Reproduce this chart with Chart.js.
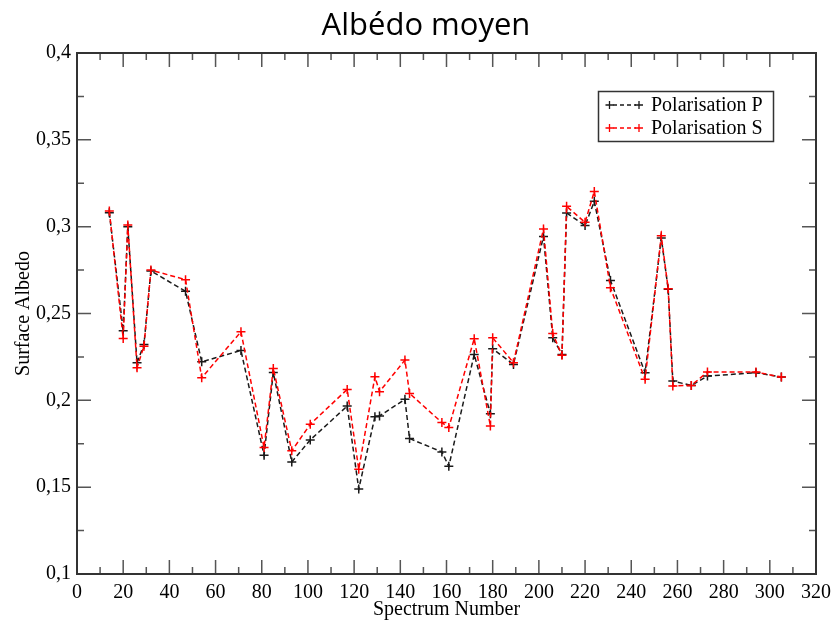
<!DOCTYPE html>
<html><head><meta charset="utf-8">
<script src="https://cdn.jsdelivr.net/npm/chart.js@4.4.0/dist/chart.umd.min.js"></script>
<style>html,body{margin:0;padding:0;background:#fff}#wrap{width:838px;height:623px}</style>
</head><body><div id="wrap"><canvas id="c" width="838" height="623"></canvas></div>
<script>
const chartTitle = 'Albédo moyen';
const xAxisTitle = 'Spectrum Number';
const yAxisTitle = 'Surface Albedo';
const seriesNames = ['Polarisation P', 'Polarisation S'];
const spectrumNumbers = [14, 20, 22, 26, 29, 32, 47, 54, 71, 81, 85, 93, 101, 117, 122, 129, 131, 142, 144, 158, 161, 172, 179, 180, 189, 202, 206, 210, 212, 220, 224, 231, 246, 253, 256, 258, 266, 273, 294, 305];
const polarisationP = [0.308, 0.240, 0.300, 0.2216, 0.2322, 0.2745, 0.2628, 0.2222, 0.2287, 0.1684, 0.216, 0.1645, 0.1772, 0.1967, 0.1489, 0.1906, 0.191, 0.2006, 0.178, 0.1703, 0.162, 0.2264, 0.1923, 0.2297, 0.2207, 0.2944, 0.236, 0.2264, 0.3079, 0.3006, 0.3146, 0.269, 0.2159, 0.2935, 0.264, 0.2111, 0.2086, 0.214, 0.2159, 0.2134];
const polarisationS = [0.309, 0.2356, 0.301, 0.2188, 0.2312, 0.275, 0.2695, 0.213, 0.2395, 0.1728, 0.2184, 0.1709, 0.1862, 0.2063, 0.1603, 0.2136, 0.205, 0.2232, 0.204, 0.1872, 0.1843, 0.2355, 0.1852, 0.236, 0.2217, 0.2987, 0.2385, 0.2259, 0.3117, 0.3025, 0.3203, 0.2648, 0.2121, 0.2948, 0.2642, 0.2083, 0.2086, 0.2163, 0.2163, 0.2134];
const xTickValues = [0, 20, 40, 60, 80, 100, 120, 140, 160, 180, 200, 220, 240, 260, 280, 300, 320];
const yTickValues = [0.1, 0.15, 0.2, 0.25, 0.3, 0.35, 0.4];
const yTickLabels = ['0,1', '0,15', '0,2', '0,25', '0,3', '0,35', '0,4'];

const SERIF = '"Liberation Serif", "Times New Roman", serif';
const colorP = '#1a1a1a';
const colorS = '#ff0000';

const framePlugin = {
  id: 'frame',
  beforeDatasetsDraw(chart) {
    const {ctx, chartArea: a, scales: {x, y}} = chart;
    ctx.save();
    ctx.strokeStyle = '#555';
    ctx.lineWidth = 1.5;
    const major = 14, minor = 7;
    ctx.beginPath();
    for (let i = 0; i < xTickValues.length; i++) {
      const px = x.getPixelForValue(xTickValues[i]);
      ctx.moveTo(px, a.bottom); ctx.lineTo(px, a.bottom - major);
      ctx.moveTo(px, a.top); ctx.lineTo(px, a.top + major);
      if (i < xTickValues.length - 1) {
        const pm = x.getPixelForValue((xTickValues[i] + xTickValues[i + 1]) / 2);
        ctx.moveTo(pm, a.bottom); ctx.lineTo(pm, a.bottom - minor);
        ctx.moveTo(pm, a.top); ctx.lineTo(pm, a.top + minor);
      }
    }
    for (let i = 0; i < yTickValues.length; i++) {
      const py = y.getPixelForValue(yTickValues[i]);
      ctx.moveTo(a.left, py); ctx.lineTo(a.left + major, py);
      ctx.moveTo(a.right, py); ctx.lineTo(a.right - major, py);
      if (i < yTickValues.length - 1) {
        const pm = y.getPixelForValue((yTickValues[i] + yTickValues[i + 1]) / 2);
        ctx.moveTo(a.left, pm); ctx.lineTo(a.left + minor, pm);
        ctx.moveTo(a.right, pm); ctx.lineTo(a.right - minor, pm);
      }
    }
    ctx.stroke();
    ctx.strokeStyle = '#333';
    ctx.lineWidth = 2;
    ctx.strokeRect(a.left, a.top, a.right - a.left, a.bottom - a.top);
    ctx.restore();
  },
  afterDraw(chart) {
    const ctx = chart.ctx;
    ctx.save();
    // title
    ctx.fillStyle = '#000';
    ctx.font = '31px "Open Sans", sans-serif';
    ctx.textAlign = 'center';
    ctx.textBaseline = 'alphabetic';
    ctx.fillText(chartTitle, 426, 35);
    // legend
    ctx.strokeStyle = '#333';
    ctx.lineWidth = 1.5;
    ctx.strokeRect(598.5, 91.5, 175, 50);
    const rows = [[seriesNames[0], colorP, 105], [seriesNames[1], colorS, 128]];
    for (const [label, col, cy] of rows) {
      ctx.strokeStyle = col;
      ctx.lineWidth = 1.3;
      ctx.setLineDash([4, 3]);
      ctx.beginPath(); ctx.moveTo(613, cy); ctx.lineTo(636, cy); ctx.stroke();
      ctx.setLineDash([]);
      ctx.beginPath();
      for (const cx of [609.5, 639]) {
        ctx.moveTo(cx - 4, cy); ctx.lineTo(cx + 4, cy);
        ctx.moveTo(cx, cy - 4); ctx.lineTo(cx, cy + 4);
      }
      ctx.stroke();
      ctx.fillStyle = '#000';
      ctx.font = '20px ' + SERIF;
      ctx.textAlign = 'left';
      ctx.textBaseline = 'alphabetic';
      ctx.fillText(label, 651, cy + 6);
    }
    ctx.restore();
  }
};

function ds(label, values, color, order) {
  return {
    label,
    data: spectrumNumbers.map((sx, i) => ({x: sx, y: values[i]})),
    borderColor: color,
    backgroundColor: color,
    borderWidth: 1.5,
    borderDash: [5, 3],
    pointStyle: 'cross',
    pointRadius: 4.5,
    pointBorderColor: color,
    pointBorderWidth: 1.5,
    fill: false,
    tension: 0,
    order
  };
}

new Chart(document.getElementById('c'), {
  type: 'line',
  data: {datasets: [ds(seriesNames[1], polarisationS, colorS, 0), ds(seriesNames[0], polarisationP, colorP, 1)]},
  options: {
    responsive: false,
    animation: false,
    devicePixelRatio: 1,
    layout: {padding: {top: 53, right: 16, left: 0, bottom: 0}},
    plugins: {legend: {display: false}, tooltip: {enabled: false}, title: {display: false}},
    scales: {
      x: {
        type: 'linear', min: 0, max: 320,
        afterBuildTicks: s => { s.ticks = xTickValues.map(v => ({value: v})); },
        afterFit: s => { s.height = 49; },
        grid: {display: false, drawTicks: false},
        border: {display: false},
        ticks: {font: {family: SERIF, size: 20}, color: '#000', padding: 7, maxRotation: 0, autoSkip: false},
        title: {display: true, text: xAxisTitle, font: {family: SERIF, size: 20}, color: '#000', padding: {top: 0, bottom: 1}}
      },
      y: {
        type: 'linear', min: 0.1, max: 0.4,
        afterBuildTicks: s => { s.ticks = yTickValues.map(v => ({value: v})); },
        afterFit: s => { s.width = 77; },
        grid: {display: false, drawTicks: false},
        border: {display: false},
        ticks: {font: {family: SERIF, size: 20}, color: '#000', padding: 6, autoSkip: false,
          callback: (v) => yTickLabels[yTickValues.indexOf(v)]},
        title: {display: true, text: yAxisTitle, font: {family: SERIF, size: 20}, color: '#000', padding: {top: 12, bottom: 0}}
      }
    }
  },
  plugins: [framePlugin]
});
</script>
</body></html>
